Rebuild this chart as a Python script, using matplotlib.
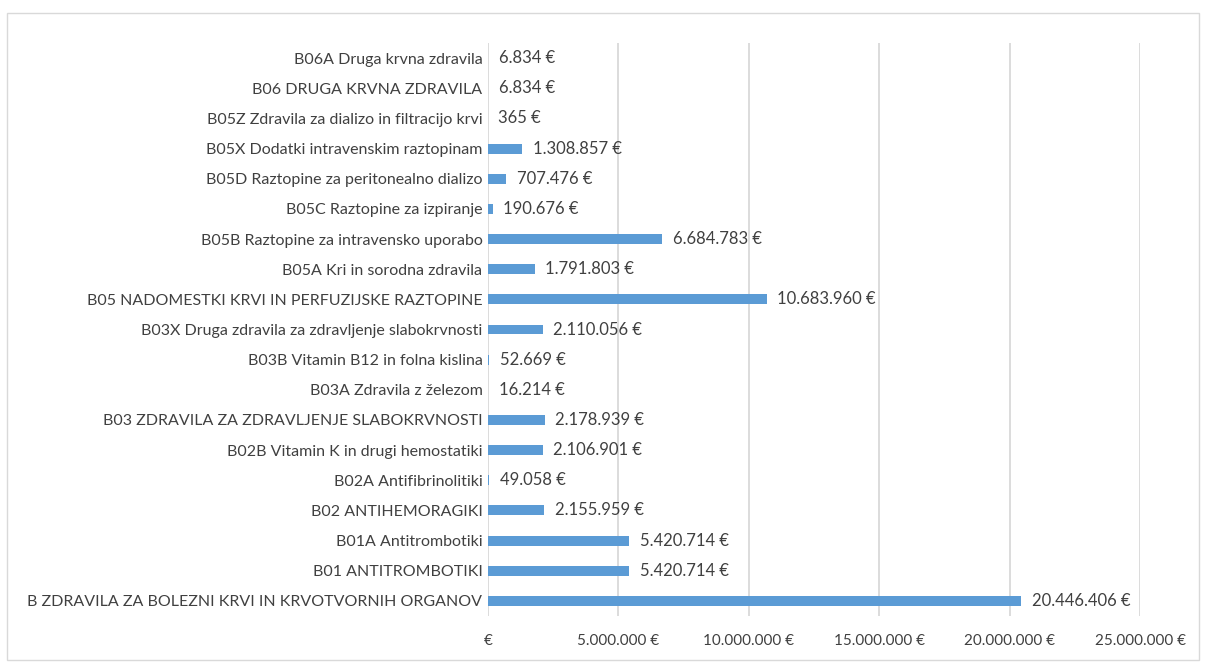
import matplotlib.pyplot as plt
from matplotlib.patches import Rectangle
from matplotlib.ticker import FuncFormatter

categories = [
    'B ZDRAVILA ZA BOLEZNI KRVI IN KRVOTVORNIH ORGANOV',
    'B01 ANTITROMBOTIKI',
    'B01A Antitrombotiki',
    'B02 ANTIHEMORAGIKI',
    'B02A Antifibrinolitiki',
    'B02B Vitamin K in drugi hemostatiki',
    'B03 ZDRAVILA ZA ZDRAVLJENJE SLABOKRVNOSTI',
    'B03A Zdravila z železom',
    'B03B Vitamin B12 in folna kislina',
    'B03X Druga zdravila za zdravljenje slabokrvnosti',
    'B05 NADOMESTKI KRVI IN PERFUZIJSKE RAZTOPINE',
    'B05A Kri in sorodna zdravila',
    'B05B Raztopine za intravensko uporabo',
    'B05C Raztopine za izpiranje',
    'B05D Raztopine za peritonealno dializo',
    'B05X Dodatki intravenskim raztopinam',
    'B05Z Zdravila za dializo in filtracijo krvi',
    'B06 DRUGA KRVNA ZDRAVILA',
    'B06A Druga krvna zdravila',
]
values = [20446406, 5420714, 5420714, 2155959, 49058, 2106901, 2178939, 16214,
          52669, 2110056, 10683960, 1791803, 6684783, 190676, 707476, 1308857,
          365, 6834, 6834]


def eur(v):
    if v == 0:
        return '€'
    return f'{int(v):,}'.replace(',', '.') + ' €'


plt.rcParams['font.family'] = ['Lato', 'DejaVu Sans']
txt = '#404040'

fig = plt.figure(figsize=(12.06, 6.62), dpi=100)
ax = fig.add_axes([0.4046, 0.0695, 0.5407, 0.8655])

y = range(len(categories))
ax.barh(y, values, height=0.33, color='#5B9BD5', zorder=3)
for i, v in enumerate(values):
    ax.text(v + 400000, i, eur(v), va='center', ha='left', fontsize=12, color=txt)

ax.set_xlim(0, 25000000)
ax.set_ylim(-0.5, len(categories) - 0.5)
ax.set_xticks(range(0, 25000001, 5000000))
ax.xaxis.set_major_formatter(FuncFormatter(lambda v, p: eur(v)))
ax.set_yticks(list(y))
ax.set_yticklabels(categories)
ax.tick_params(axis='both', length=0, labelcolor=txt)
ax.tick_params(axis='x', pad=13, labelsize=11)
ax.tick_params(axis='y', pad=4, labelsize=11.5)
for lbl in ax.get_xticklabels():
    lbl.set_x(lbl.get_position()[0])
ax.grid(axis='x', color='#D9D9D9', linewidth=1.3, zorder=0)
for s in ax.spines.values():
    s.set_visible(False)

fig.patches.append(Rectangle((7 / 1206, 2 / 662), 1192 / 1206, 647 / 662,
                             transform=fig.transFigure, fill=False,
                             edgecolor='#D9D9D9', linewidth=1))

fig.savefig('out.png', dpi=100)
